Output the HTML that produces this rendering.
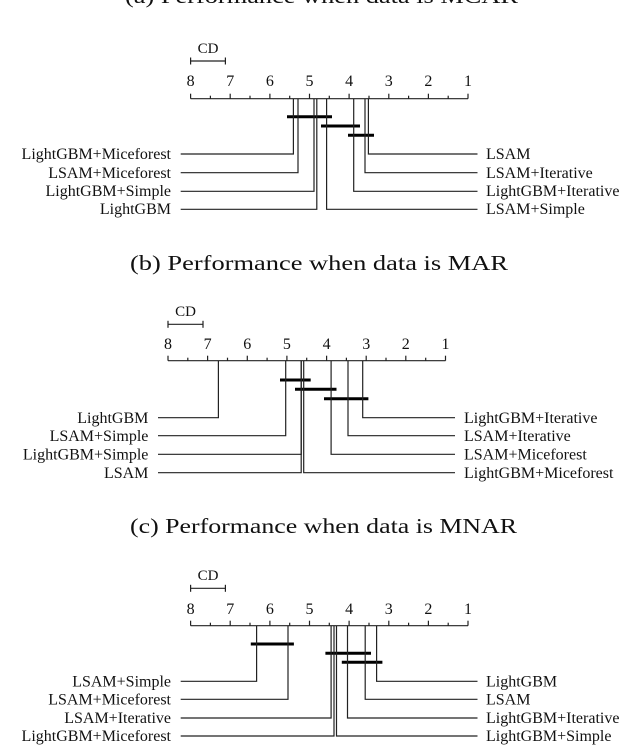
<!DOCTYPE html>
<html><head><meta charset="utf-8"><style>
html,body{margin:0;padding:0;background:#fff;}
svg{display:block;font-family:"Liberation Serif",serif;}
.l{font-size:16px;fill:#111;}
.n{font-size:16px;fill:#111;text-anchor:middle;}
.t{font-size:21px;fill:#111;}
line{stroke:#222;stroke-width:1.2;}
.b{stroke:#000;stroke-width:3;}
</style></head><body>
<svg width="640" height="745" viewBox="0 0 640 745" xmlns="http://www.w3.org/2000/svg">
<!-- Titles -->
<text class="t" x="125" y="3" textLength="393" lengthAdjust="spacingAndGlyphs">(a) Performance when data is MCAR</text>
<text class="t" x="130" y="270" textLength="378" lengthAdjust="spacingAndGlyphs">(b) Performance when data is MAR</text>
<text class="t" x="130" y="533" textLength="387" lengthAdjust="spacingAndGlyphs">(c) Performance when data is MNAR</text>

<!-- Panel A -->
<g>
<text class="n" x="208" y="53" style="font-size:15px">CD</text>
<line x1="190.6" y1="61" x2="225.4" y2="61"/><line x1="190.6" y1="57.5" x2="190.6" y2="64.5"/><line x1="225.4" y1="57.5" x2="225.4" y2="64.5"/>
<text class="n" x="190.6" y="86">8</text><text class="n" x="230.2" y="86">7</text><text class="n" x="269.9" y="86">6</text><text class="n" x="309.5" y="86">5</text><text class="n" x="349.1" y="86">4</text><text class="n" x="388.8" y="86">3</text><text class="n" x="428.4" y="86">2</text><text class="n" x="468" y="86">1</text>
<line x1="190.6" y1="98.7" x2="468" y2="98.7"/>
<line x1="190.6" y1="93.7" x2="190.6" y2="98.7"/><line x1="230.2" y1="93.7" x2="230.2" y2="98.7"/><line x1="269.9" y1="93.7" x2="269.9" y2="98.7"/><line x1="309.5" y1="93.7" x2="309.5" y2="98.7"/><line x1="349.1" y1="93.7" x2="349.1" y2="98.7"/><line x1="388.8" y1="93.7" x2="388.8" y2="98.7"/><line x1="428.4" y1="93.7" x2="428.4" y2="98.7"/><line x1="468" y1="93.7" x2="468" y2="98.7"/>
<line x1="210.4" y1="95.7" x2="210.4" y2="98.7"/><line x1="250" y1="95.7" x2="250" y2="98.7"/><line x1="289.7" y1="95.7" x2="289.7" y2="98.7"/><line x1="329.3" y1="95.7" x2="329.3" y2="98.7"/><line x1="369" y1="95.7" x2="369" y2="98.7"/><line x1="408.6" y1="95.7" x2="408.6" y2="98.7"/><line x1="448.2" y1="95.7" x2="448.2" y2="98.7"/>
<line class="b" x1="287" y1="116.7" x2="332" y2="116.7"/>
<line class="b" x1="321" y1="126" x2="360" y2="126"/>
<line class="b" x1="348" y1="135.3" x2="374" y2="135.3"/>
<polyline fill="none" stroke="#222" stroke-width="1.2" points="293.4,98.7 293.4,154 180.7,154"/>
<polyline fill="none" stroke="#222" stroke-width="1.2" points="298,98.7 298,172.7 180.7,172.7"/>
<polyline fill="none" stroke="#222" stroke-width="1.2" points="314,98.7 314,191.3 180.7,191.3"/>
<polyline fill="none" stroke="#222" stroke-width="1.2" points="316.8,98.7 316.8,209.3 180.7,209.3"/>
<polyline fill="none" stroke="#222" stroke-width="1.2" points="368.4,98.7 368.4,154 477.5,154"/>
<polyline fill="none" stroke="#222" stroke-width="1.2" points="365,98.7 365,172.7 477.5,172.7"/>
<polyline fill="none" stroke="#222" stroke-width="1.2" points="353.7,98.7 353.7,191.3 477.5,191.3"/>
<polyline fill="none" stroke="#222" stroke-width="1.2" points="326.6,98.7 326.6,209.3 477.5,209.3"/>
<g class="l" text-anchor="end">
<text x="171" y="159">LightGBM+Miceforest</text><text x="171" y="178">LSAM+Miceforest</text><text x="171" y="196">LightGBM+Simple</text><text x="171" y="214">LightGBM</text>
</g>
<g class="l">
<text x="486" y="159">LSAM</text><text x="486" y="178">LSAM+Iterative</text><text x="486" y="196">LightGBM+Iterative</text><text x="486" y="214">LSAM+Simple</text>
</g>
</g>

<!-- Panel B -->
<g>
<text class="n" x="185.5" y="316" style="font-size:15px">CD</text>
<line x1="168" y1="324.3" x2="203" y2="324.3"/><line x1="168" y1="320.8" x2="168" y2="327.8"/><line x1="203" y1="320.8" x2="203" y2="327.8"/>
<text class="n" x="168" y="349">8</text><text class="n" x="207.6" y="349">7</text><text class="n" x="247.3" y="349">6</text><text class="n" x="286.9" y="349">5</text><text class="n" x="326.6" y="349">4</text><text class="n" x="366.2" y="349">3</text><text class="n" x="405.8" y="349">2</text><text class="n" x="445.5" y="349">1</text>
<line x1="168" y1="360.7" x2="445.5" y2="360.7"/>
<line x1="168" y1="355.7" x2="168" y2="360.7"/><line x1="207.6" y1="355.7" x2="207.6" y2="360.7"/><line x1="247.3" y1="355.7" x2="247.3" y2="360.7"/><line x1="286.9" y1="355.7" x2="286.9" y2="360.7"/><line x1="326.6" y1="355.7" x2="326.6" y2="360.7"/><line x1="366.2" y1="355.7" x2="366.2" y2="360.7"/><line x1="405.8" y1="355.7" x2="405.8" y2="360.7"/><line x1="445.5" y1="355.7" x2="445.5" y2="360.7"/>
<line x1="187.8" y1="357.7" x2="187.8" y2="360.7"/><line x1="227.5" y1="357.7" x2="227.5" y2="360.7"/><line x1="267.1" y1="357.7" x2="267.1" y2="360.7"/><line x1="306.7" y1="357.7" x2="306.7" y2="360.7"/><line x1="346.4" y1="357.7" x2="346.4" y2="360.7"/><line x1="386" y1="357.7" x2="386" y2="360.7"/><line x1="425.7" y1="357.7" x2="425.7" y2="360.7"/>
<line class="b" x1="280" y1="380" x2="310.7" y2="380"/>
<line class="b" x1="295" y1="389.3" x2="336.5" y2="389.3"/>
<line class="b" x1="324" y1="398.7" x2="368.4" y2="398.7"/>
<polyline fill="none" stroke="#222" stroke-width="1.2" points="218.4,360.7 218.4,417.7 158,417.7"/>
<polyline fill="none" stroke="#222" stroke-width="1.2" points="285.7,360.7 285.7,435.7 158,435.7"/>
<polyline fill="none" stroke="#222" stroke-width="1.2" points="301.2,360.7 301.2,454.3 158,454.3"/>
<polyline fill="none" stroke="#222" stroke-width="1.2" points="301.2,360.7 301.2,472.7 158,472.7"/>
<polyline fill="none" stroke="#222" stroke-width="1.2" points="362.7,360.7 362.7,417.7 455,417.7"/>
<polyline fill="none" stroke="#222" stroke-width="1.2" points="348,360.7 348,435.7 455,435.7"/>
<polyline fill="none" stroke="#222" stroke-width="1.2" points="331.1,360.7 331.1,454.3 455,454.3"/>
<polyline fill="none" stroke="#222" stroke-width="1.2" points="303.7,360.7 303.7,472.7 455,472.7"/>
<g class="l" text-anchor="end">
<text x="148.4" y="423">LightGBM</text><text x="148.4" y="441">LSAM+Simple</text><text x="148.4" y="459.5">LightGBM+Simple</text><text x="148.4" y="478">LSAM</text>
</g>
<g class="l">
<text x="464" y="423">LightGBM+Iterative</text><text x="464" y="441">LSAM+Iterative</text><text x="464" y="459.5">LSAM+Miceforest</text><text x="464" y="478">LightGBM+Miceforest</text>
</g>
</g>

<!-- Panel C -->
<g>
<text class="n" x="208" y="580" style="font-size:15px">CD</text>
<line x1="190.6" y1="588.3" x2="225.4" y2="588.3"/><line x1="190.6" y1="584.8" x2="190.6" y2="591.8"/><line x1="225.4" y1="584.8" x2="225.4" y2="591.8"/>
<text class="n" x="190.6" y="614">8</text><text class="n" x="230.2" y="614">7</text><text class="n" x="269.9" y="614">6</text><text class="n" x="309.5" y="614">5</text><text class="n" x="349.1" y="614">4</text><text class="n" x="388.8" y="614">3</text><text class="n" x="428.4" y="614">2</text><text class="n" x="468" y="614">1</text>
<line x1="190.6" y1="625.7" x2="468" y2="625.7"/>
<line x1="190.6" y1="620.7" x2="190.6" y2="625.7"/><line x1="230.2" y1="620.7" x2="230.2" y2="625.7"/><line x1="269.9" y1="620.7" x2="269.9" y2="625.7"/><line x1="309.5" y1="620.7" x2="309.5" y2="625.7"/><line x1="349.1" y1="620.7" x2="349.1" y2="625.7"/><line x1="388.8" y1="620.7" x2="388.8" y2="625.7"/><line x1="428.4" y1="620.7" x2="428.4" y2="625.7"/><line x1="468" y1="620.7" x2="468" y2="625.7"/>
<line x1="210.4" y1="622.7" x2="210.4" y2="625.7"/><line x1="250" y1="622.7" x2="250" y2="625.7"/><line x1="289.7" y1="622.7" x2="289.7" y2="625.7"/><line x1="329.3" y1="622.7" x2="329.3" y2="625.7"/><line x1="369" y1="622.7" x2="369" y2="625.7"/><line x1="408.6" y1="622.7" x2="408.6" y2="625.7"/><line x1="448.2" y1="622.7" x2="448.2" y2="625.7"/>
<line class="b" x1="250.8" y1="644" x2="293.9" y2="644"/>
<line class="b" x1="325.4" y1="653.3" x2="371" y2="653.3"/>
<line class="b" x1="341.8" y1="662.3" x2="382.4" y2="662.3"/>
<polyline fill="none" stroke="#222" stroke-width="1.2" points="256.6,625.7 256.6,681.3 180.7,681.3"/>
<polyline fill="none" stroke="#222" stroke-width="1.2" points="288,625.7 288,699.3 180.7,699.3"/>
<polyline fill="none" stroke="#222" stroke-width="1.2" points="331.1,625.7 331.1,718 180.7,718"/>
<polyline fill="none" stroke="#222" stroke-width="1.2" points="334,625.7 334,736 180.7,736"/>
<polyline fill="none" stroke="#222" stroke-width="1.2" points="376.6,625.7 376.6,681.3 477.5,681.3"/>
<polyline fill="none" stroke="#222" stroke-width="1.2" points="365.2,625.7 365.2,699.3 477.5,699.3"/>
<polyline fill="none" stroke="#222" stroke-width="1.2" points="347.5,625.7 347.5,718 477.5,718"/>
<polyline fill="none" stroke="#222" stroke-width="1.2" points="336.5,625.7 336.5,736 477.5,736"/>
<g class="l" text-anchor="end">
<text x="171" y="686.5">LSAM+Simple</text><text x="171" y="704.5">LSAM+Miceforest</text><text x="171" y="723">LSAM+Iterative</text><text x="171" y="741">LightGBM+Miceforest</text>
</g>
<g class="l">
<text x="486" y="686.5">LightGBM</text><text x="486" y="704.5">LSAM</text><text x="486" y="723">LightGBM+Iterative</text><text x="486" y="741">LightGBM+Simple</text>
</g>
</g>
</svg>
</body></html>
